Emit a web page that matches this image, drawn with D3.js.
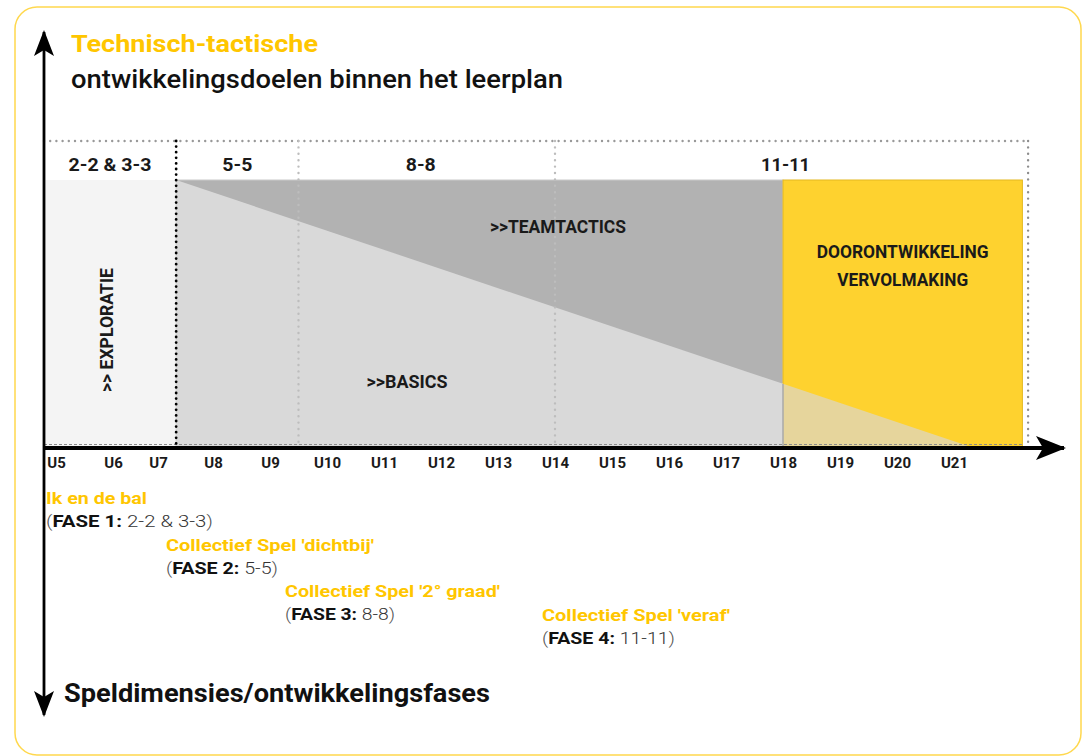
<!DOCTYPE html>
<html>
<head>
<meta charset="utf-8">
<script src="https://cdn.jsdelivr.net/npm/d3@7"></script>
<style>
  body { margin: 0; background: #fff; }
  svg text { font-family: Roboto, "Noto Sans", sans-serif; }
</style>
</head>
<body>
<div id="chart"></div>
<script>
// age groups on the horizontal axis
var ages = [5, 6, 7, 8, 9, 10, 11, 12, 13, 14, 15, 16, 17, 18, 19, 20, 21];
var tickLabels = ["U5", "U6", "U7", "U8", "U9", "U10", "U11", "U12", "U13", "U14",
                  "U15", "U16", "U17", "U18", "U19", "U20", "U21"];

// game formats and the age at which each one ends
var formats = ["2-2 & 3-3", "5-5", "8-8", "11-11"];
var formatEnds = [7.33, 9.5, 14, 22.3];

// development phases under the axis
var phaseNames = ["Ik en de bal", "Collectief Spel 'dichtbij'", "Collectief Spel '2° graad'", "Collectief Spel 'veraf'"];
var phaseCodes = ["FASE 1:", "FASE 2:", "FASE 3:", "FASE 4:"];

// share of basics vs teamtactics (1 = only basics)
var basicsAges = [7.33, 21.3];
var basicsShare = [1, 0];

// refinement block
var refinementSpan = [18, 22.2];
var refinementLabel = ["DOORONTWIKKELING", "VERVOLMAKING"];

var W = 1082, H = 756;
var plotLeft = 44, plotTop = 180, plotBottom = 447, headTop = 141;
var yellowText = "#ffc600";

var svg = d3.select("#chart").append("svg")
    .attr("width", W)
    .attr("height", H);

// polylinear scale: the first age groups are squeezed in the original
var x = d3.scaleLinear()
    .domain([5, 6, 7, 8, 21])
    .range([56, 113, 158, 213, 954]);

var y = d3.scaleLinear().domain([0, 1]).range([plotBottom, plotTop]);

// interpolate the diagonal between basics and teamtactics
var share = d3.scaleLinear().domain(basicsAges).range(basicsShare);

function fit(sel, w) {
    return sel.attr("textLength", w).attr("lengthAdjust", "spacingAndGlyphs");
}

// arrow heads
var defs = svg.append("defs");
defs.append("marker")
    .attr("id", "arrow")
    .attr("viewBox", "0 0 30 24")
    .attr("refX", 28).attr("refY", 12)
    .attr("markerUnits", "userSpaceOnUse")
    .attr("markerWidth", 30).attr("markerHeight", 24)
    .attr("orient", "auto-start-reverse")
    .append("path")
    .attr("d", "M30,12 L0,0 L7,12 L0,24 Z")
    .attr("fill", "#000");
defs.append("marker")
    .attr("id", "arrowV")
    .attr("viewBox", "0 0 26 20")
    .attr("refX", 24).attr("refY", 10)
    .attr("markerUnits", "userSpaceOnUse")
    .attr("markerWidth", 26).attr("markerHeight", 20)
    .attr("orient", "auto-start-reverse")
    .append("path")
    .attr("d", "M26,10 L0,0 L6,10 L0,20 Z")
    .attr("fill", "#000");

defs.append("clipPath").attr("id", "clipGrey")
    .append("rect")
    .attr("x", plotLeft).attr("y", plotTop)
    .attr("width", x(refinementSpan[0]) - plotLeft).attr("height", plotBottom - plotTop);
defs.append("clipPath").attr("id", "clipYellow")
    .append("rect")
    .attr("x", x(refinementSpan[0])).attr("y", plotTop)
    .attr("width", x(refinementSpan[1]) - x(refinementSpan[0])).attr("height", plotBottom - plotTop);

// frame
svg.append("rect")
    .attr("x", 15).attr("y", 7)
    .attr("width", 1066).attr("height", 748)
    .attr("rx", 22)
    .attr("fill", "none")
    .attr("stroke", "#ffd84e")
    .attr("stroke-width", 1.5);

// exploration band
svg.append("rect")
    .attr("x", plotLeft).attr("y", plotTop)
    .attr("width", x(formatEnds[0]) - plotLeft).attr("height", plotBottom - plotTop)
    .attr("fill", "#f4f4f4");

// teamtactics (dark grey)
svg.append("rect")
    .attr("x", x(formatEnds[0])).attr("y", plotTop)
    .attr("width", x(refinementSpan[0]) - x(formatEnds[0])).attr("height", plotBottom - plotTop)
    .attr("fill", "#b2b2b2")
    .attr("stroke", "#c9c9c9")
    .attr("stroke-width", 1);

// refinement (yellow)
svg.append("rect")
    .attr("x", x(refinementSpan[0])).attr("y", plotTop)
    .attr("width", x(refinementSpan[1]) - x(refinementSpan[0])).attr("height", plotBottom - plotTop)
    .attr("fill", "#fed22f")
    .attr("stroke", "#e4b820")
    .attr("stroke-width", 1);

// basics (light triangle), grey part and part over the yellow block
var basicsData = basicsAges.map(function(a, i) { return { age: a, share: basicsShare[i] }; });
var area = d3.area()
    .x(function(d) { return x(d.age); })
    .y0(plotBottom)
    .y1(function(d) { return y(d.share); });

svg.append("path")
    .datum(basicsData)
    .attr("d", area)
    .attr("fill", "#d9d9d9")
    .attr("clip-path", "url(#clipGrey)");
svg.append("path")
    .datum(basicsData)
    .attr("d", area)
    .attr("fill", "#e6d59c")
    .attr("clip-path", "url(#clipYellow)");

svg.append("line")
    .attr("x1", x(refinementSpan[0])).attr("x2", x(refinementSpan[0]))
    .attr("y1", y(share(refinementSpan[0]))).attr("y2", plotBottom)
    .attr("stroke", "#a9a9a9")
    .attr("stroke-width", 1.5);

// thin dashed line along the bottom of the plot
svg.append("line")
    .attr("x1", plotLeft).attr("x2", x(refinementSpan[1]))
    .attr("y1", plotBottom - 2.5).attr("y2", plotBottom - 2.5)
    .attr("stroke", "#8a8a8a")
    .attr("stroke-width", 1)
    .attr("stroke-dasharray", "3,2");

// dotted header frame
svg.append("line")
    .attr("x1", plotLeft).attr("x2", x(formatEnds[3]))
    .attr("y1", headTop).attr("y2", headTop)
    .attr("stroke", "#999")
    .attr("stroke-width", 2.4)
    .attr("stroke-linecap", "round")
    .attr("stroke-dasharray", "0,6.2");

svg.selectAll(".divider")
    .data(formatEnds)
    .enter()
    .append("line")
    .attr("class", "divider")
    .attr("x1", function(d) { return x(d); })
    .attr("x2", function(d) { return x(d); })
    .attr("y1", headTop).attr("y2", plotBottom)
    .attr("stroke", function(d, i) {
        if (i == 0) return "#000";
        if (i == formatEnds.length - 1) return "#8d8d8d";
        return "#bdbdbd";
    })
    .attr("stroke-width", function(d, i) { return i == 0 ? 2.8 : 2.4; })
    .attr("stroke-linecap", "round")
    .attr("stroke-dasharray", function(d, i) { return i == 0 ? "0,5.6" : "0,6.4"; });

// format labels in the header
var formatStarts = [plotLeft].concat(formatEnds.slice(0, -1).map(x));
var formatWidths = [83, 30, 30, 49];
svg.selectAll(".format")
    .data(formats)
    .enter()
    .append("text")
    .attr("class", "format")
    .attr("x", function(d, i) { return (formatStarts[i] + x(formatEnds[i])) / 2 - (i >= 2 ? 6 : 0); })
    .attr("y", 171)
    .attr("text-anchor", "middle")
    .attr("font-size", 18)
    .attr("font-weight", 700)
    .attr("fill", "#1a1a1a")
    .text(function(d) { return d; })
    .each(function(d, i) { fit(d3.select(this), formatWidths[i]); });

// labels inside the plot
fit(svg.append("text")
    .attr("x", 558).attr("y", 233)
    .attr("text-anchor", "middle")
    .attr("font-size", 18).attr("font-weight", 700)
    .attr("fill", "#1a1a1a")
    .text(">>TEAMTACTICS"), 136);

fit(svg.append("text")
    .attr("x", 407).attr("y", 388)
    .attr("text-anchor", "middle")
    .attr("font-size", 18).attr("font-weight", 700)
    .attr("fill", "#1a1a1a")
    .text(">>BASICS"), 81);

fit(svg.append("text")
    .attr("transform", "translate(113,330) rotate(-90)")
    .attr("text-anchor", "middle")
    .attr("font-size", 19).attr("font-weight", 700)
    .attr("fill", "#1a1a1a")
    .text(">> EXPLORATIE"), 124);

var refX = (x(refinementSpan[0]) + x(refinementSpan[1])) / 2;
svg.selectAll(".refinement")
    .data(refinementLabel)
    .enter()
    .append("text")
    .attr("class", "refinement")
    .attr("x", refX)
    .attr("y", function(d, i) { return 258 + i * 28; })
    .attr("text-anchor", "middle")
    .attr("font-size", 19).attr("font-weight", 700)
    .attr("fill", "#1a1a1a")
    .text(function(d) { return d; })
    .each(function(d, i) { fit(d3.select(this), i == 0 ? 172 : 131); });

// age labels with a d3 axis
var axisG = svg.append("g")
    .attr("transform", "translate(0," + plotBottom + ")")
    .call(d3.axisBottom(x)
        .tickValues(ages)
        .tickSize(0)
        .tickPadding(10)
        .tickFormat(function(d, i) { return tickLabels[i]; }));
axisG.select(".domain").remove();
axisG.selectAll("text")
    .attr("font-family", "Roboto, sans-serif")
    .attr("font-size", 15)
    .attr("font-weight", 700)
    .attr("fill", "#1a1a1a");

// axes with arrows
svg.append("line")
    .attr("x1", plotLeft - 1).attr("x2", 1064)
    .attr("y1", plotBottom + 1).attr("y2", plotBottom + 1)
    .attr("stroke", "#000")
    .attr("stroke-width", 4)
    .attr("marker-end", "url(#arrow)");

svg.append("line")
    .attr("x1", plotLeft).attr("x2", plotLeft)
    .attr("y1", 32).attr("y2", 715)
    .attr("stroke", "#000")
    .attr("stroke-width", 2.8)
    .attr("marker-start", "url(#arrowV)")
    .attr("marker-end", "url(#arrowV)");

// titles
fit(svg.append("text")
    .attr("x", 71).attr("y", 52)
    .attr("font-size", 24).attr("font-weight", 700)
    .attr("fill", yellowText)
    .text("Technisch-tactische"), 247);

fit(svg.append("text")
    .attr("x", 71).attr("y", 88)
    .attr("font-size", 26).attr("font-weight", 500)
    .attr("fill", "#111")
    .text("ontwikkelingsdoelen binnen het leerplan"), 492);

fit(svg.append("text")
    .attr("x", 64).attr("y", 702)
    .attr("font-size", 26).attr("font-weight", 700)
    .attr("fill", "#111")
    .text("Speldimensies/ontwikkelingsfases"), 426);

// phase notes under the axis
var noteX = [46, 166, 285, 542];
var noteY = [504, 551, 597, 621];
var nameWidths = [101, 208, 215, 188];
var codeWidths = [167, 112, 110, 133];

var notes = svg.selectAll(".note")
    .data(phaseNames)
    .enter()
    .append("g")
    .attr("class", "note")
    .attr("transform", function(d, i) { return "translate(" + noteX[i] + "," + noteY[i] + ")"; });

notes.append("text")
    .attr("font-size", 17).attr("font-weight", 700)
    .attr("fill", yellowText)
    .text(function(d) { return d; })
    .each(function(d, i) { fit(d3.select(this), nameWidths[i]); });

var codeLine = notes.append("text")
    .attr("y", 23)
    .attr("font-size", 17)
    .each(function(d, i) { fit(d3.select(this), codeWidths[i]); });
codeLine.append("tspan").attr("font-weight", 300).attr("fill", "#555").text("(");
codeLine.append("tspan").attr("font-weight", 700).attr("fill", "#111")
    .text(function(d, i) { return phaseCodes[i]; });
codeLine.append("tspan").attr("font-weight", 300).attr("fill", "#333")
    .text(function(d, i) { return " " + formats[i]; });
codeLine.append("tspan").attr("font-weight", 300).attr("fill", "#555").text(")");
</script>
</body>
</html>
